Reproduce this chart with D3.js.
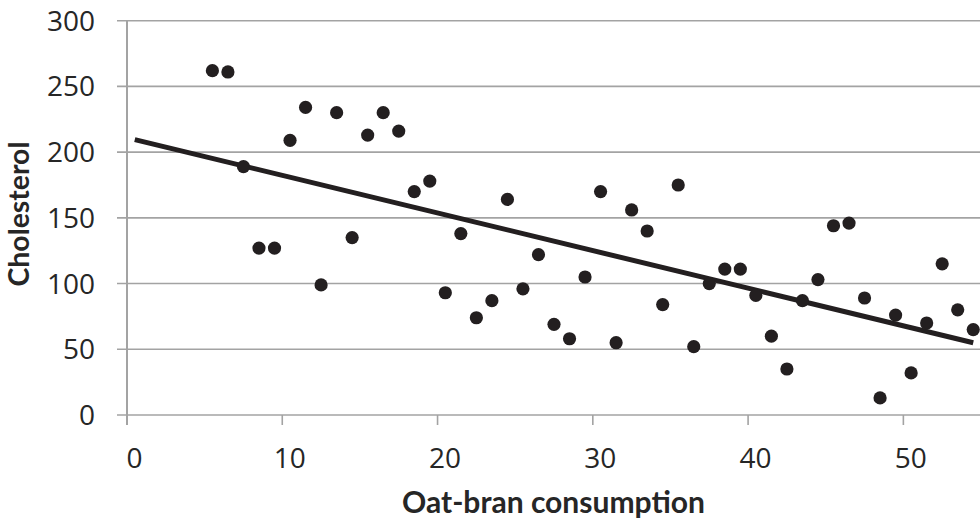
<!DOCTYPE html>
<html>
<head>
<meta charset="utf-8">
<script src="https://cdn.jsdelivr.net/npm/d3@7"></script>
<style>
  html, body { margin: 0; padding: 0; background: #fff; }
  svg { display: block; }
</style>
</head>
<body>
<svg id="chart" width="980" height="521"></svg>
<script>
// ---- data ----
const oatBran = [5.5,6.5,7.5,8.5,9.5,10.5,11.5,12.5,13.5,14.5,15.5,16.5,17.5,18.5,19.5,20.5,21.5,22.5,23.5,24.5,25.5,26.5,27.5,28.5,29.5,30.5,31.5,32.5,33.5,34.5,35.5,36.5,37.5,38.5,39.5,40.5,41.5,42.5,43.5,44.5,45.5,46.5,47.5,48.5,49.5,50.5,51.5,52.5,53.5,54.5];
const cholesterol = [262,261,189,127,127,209,234,99,230,135,213,230,216,170,178,93,138,74,87,164,96,122,69,58,105,170,55,156,140,84,175,52,100,111,111,91,60,35,87,103,144,146,89,13,76,32,70,115,80,65];
const trendX = [0.5, 54.5];
const trendY = [209.5, 55];
const xTicks = [0,10,20,30,40,50];
const yTicks = [0,50,100,150,200,250,300];
const xTitle = "Oat-bran consumption";
const yTitle = "Cholesterol";

// ---- layout ----
const svg = d3.select("#chart");
const x = d3.scaleLinear().domain([0, 55]).range([127, 981]);
const y = d3.scaleLinear().domain([0, 300]).range([415, 20.7]);
const gridColor = "#a3a3a3";
const inkColor = "#231f20";
const textColor = "#262626";

// horizontal gridlines (extend 10px left of axis as ticks)
svg.append("g")
  .selectAll("line")
  .data(yTicks)
  .join("line")
  .attr("x1", x(0) - 10).attr("x2", 980)
  .attr("y1", d => y(d)).attr("y2", d => y(d))
  .attr("stroke", gridColor).attr("stroke-width", 1.6);

// vertical y axis line
svg.append("line")
  .attr("x1", x(0)).attr("x2", x(0))
  .attr("y1", y(300)).attr("y2", y(0) + 10)
  .attr("stroke", gridColor).attr("stroke-width", 2);

// x axis tick marks
svg.append("g")
  .selectAll("line")
  .data(xTicks.filter(d => d > 0))
  .join("line")
  .attr("x1", d => x(d)).attr("x2", d => x(d))
  .attr("y1", y(0)).attr("y2", y(0) + 10)
  .attr("stroke", gridColor).attr("stroke-width", 1.6);

// y tick labels
svg.append("g")
  .selectAll("text")
  .data(yTicks)
  .join("text")
  .attr("x", 95).attr("y", d => y(d))
  .attr("dy", "0.36em")
  .attr("text-anchor", "end")
  .attr("font-family", "'Open Sans', sans-serif")
  .attr("font-size", 28)
  .attr("fill", textColor)
  .text(d => d);

// x tick labels
svg.append("g")
  .selectAll("text")
  .data(xTicks)
  .join("text")
  .attr("x", d => x(d) + 7.5).attr("y", 467.5)
  .attr("text-anchor", "middle")
  .attr("font-family", "'Open Sans', sans-serif")
  .attr("font-size", 28)
  .attr("fill", textColor)
  .text(d => d);

// trend line
svg.append("line")
  .attr("x1", x(trendX[0])).attr("y1", y(trendY[0]))
  .attr("x2", x(trendX[1])).attr("y2", y(trendY[1]))
  .attr("stroke", inkColor).attr("stroke-width", 5);

// points
svg.append("g")
  .selectAll("circle")
  .data(oatBran.map((v, i) => [v, cholesterol[i]]))
  .join("circle")
  .attr("cx", d => x(d[0])).attr("cy", d => y(d[1]))
  .attr("r", 6.6)
  .attr("fill", inkColor);

// axis titles
function fitText(sel, target) {
  const w = sel.node().getComputedTextLength();
  const fs = parseFloat(sel.attr("font-size"));
  sel.attr("font-size", fs * target / w);
}
const xt = svg.append("text")
  .attr("x", 553.5).attr("y", 513)
  .attr("text-anchor", "middle")
  .attr("font-family", "Lato, sans-serif")
  .attr("font-weight", "bold")
  .attr("font-size", 26)
  .attr("fill", textColor)
  .text(xTitle);
fitText(xt, 303);

const yt = svg.append("text")
  .attr("transform", "translate(29,214) rotate(-90)")
  .attr("text-anchor", "middle")
  .attr("font-family", "Lato, sans-serif")
  .attr("font-weight", "bold")
  .attr("font-size", 26)
  .attr("fill", textColor)
  .text(yTitle);
fitText(yt, 145);
</script>
</body>
</html>
